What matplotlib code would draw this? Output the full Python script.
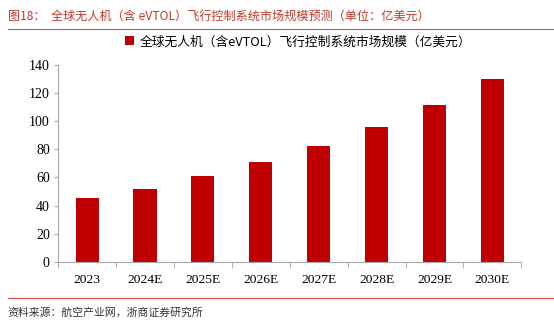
import matplotlib.pyplot as plt
from matplotlib.lines import Line2D
import numpy as np

years = ['2023', '2024E', '2025E', '2026E', '2027E', '2028E', '2029E', '2030E']
market_size = [45.5, 52.0, 61.0, 70.7, 82.1, 95.6, 111.3, 129.8]
y_ticks = [0, 20, 40, 60, 80, 100, 120, 140]

title = '图18：  全球无人机（含 eVTOL）飞行控制系统市场规模预测（单位：亿美元）'
legend_label = '全球无人机（含eVTOL）飞行控制系统市场规模（亿美元）'
source = '资料来源：航空产业网，浙商证券研究所'

cjk = ['Noto Sans CJK SC', 'DejaVu Sans']
num = ['Liberation Serif', 'DejaVu Serif']
bar_red = '#c00000'
line_red = '#d9534f'
axis_grey = '#a6a6a6'


def main():
    fig = plt.figure(figsize=(5.54, 3.22), dpi=100)
    ax = fig.add_axes([0.105, 0.187, 0.836, 0.611])

    x = np.arange(len(years))
    ax.bar(x, market_size, width=0.4, color=bar_red, label=legend_label)

    ax.set_xlim(-0.5, len(years) - 0.5)
    ax.set_ylim(0, 140)
    ax.set_yticks(y_ticks)
    ax.set_yticklabels([str(v) for v in y_ticks], family=num, fontsize=10)
    ax.set_xticks(x)
    ax.set_xticklabels(years, family=num, fontsize=9.7)
    ax.tick_params(axis='x', length=0, pad=9)
    ax.set_xticks(np.arange(-0.5, len(years)), minor=True)
    ax.tick_params(axis='x', which='minor', length=4, color=axis_grey)
    ax.tick_params(axis='y', length=3, color=axis_grey, pad=3)

    for side in ['top', 'right']:
        ax.spines[side].set_visible(False)
    for side in ['left', 'bottom']:
        ax.spines[side].set_color(axis_grey)

    ax.legend(loc='upper left', bbox_to_anchor=(0.12, 1.21), frameon=False,
              handlelength=0.7, handleheight=0.7, handletextpad=0.4,
              prop={'family': cjk, 'size': 9.2})

    fig.text(0.014, 0.948, title, family=cjk, fontsize=8.7, color='#c0392b',
             va='center', ha='left')
    fig.add_artist(Line2D([0.014, 1.0], [0.909, 0.909], color=line_red, lw=0.8))
    fig.add_artist(Line2D([0.014, 1.0], [0.074, 0.074], color=line_red, lw=0.8))
    fig.text(0.014, 0.03, source, family=cjk, fontsize=7.8, color='#333333',
             va='center', ha='left')

    fig.savefig('out.png', dpi=100)


if __name__ == '__main__':
    main()
